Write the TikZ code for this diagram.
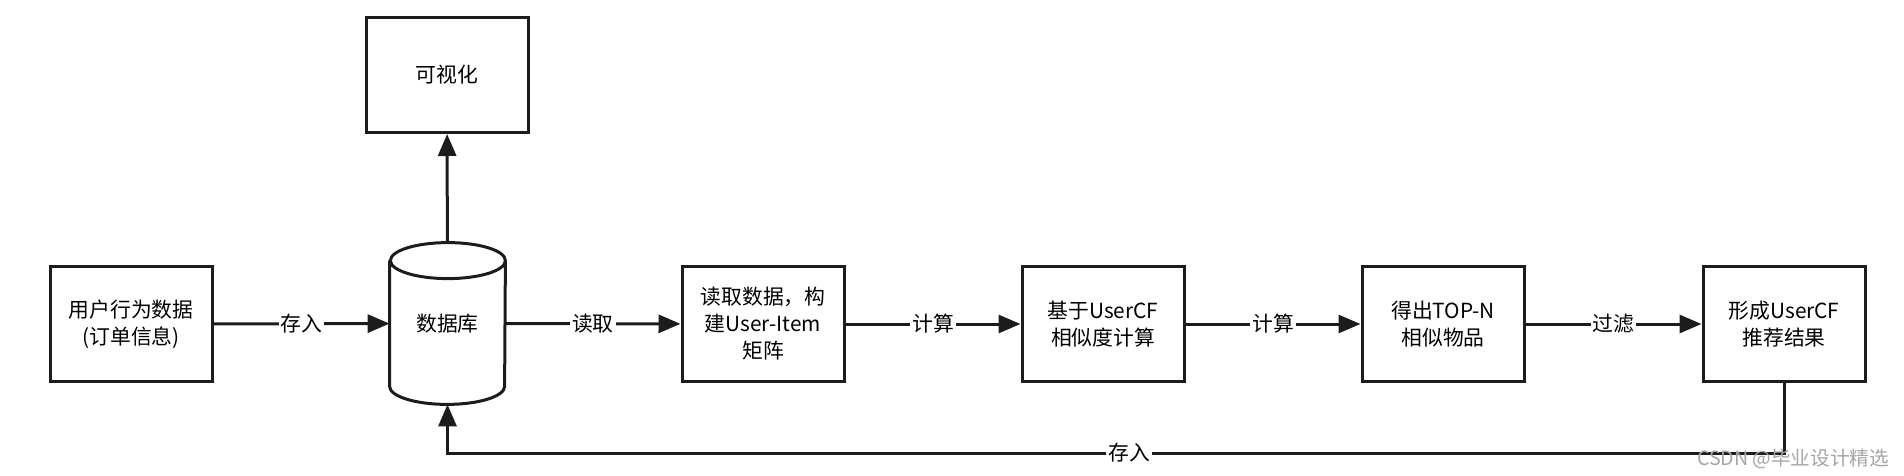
\documentclass[tikz,border=0pt]{standalone}
\usepackage{fontspec}
\usepackage{tikz}
\usetikzlibrary{arrows.meta,positioning,shapes.geometric}
\newfontfamily\cjkfont{Noto Sans CJK SC}
\definecolor{flowink}{RGB}{28,28,28}
\definecolor{markgray}{RGB}{165,165,165}
\tikzset{
  stepbox/.style={draw=flowink,line width=1.5pt,minimum width=81pt,
    minimum height=57.5pt,align=center,inner sep=2pt},
  dbbody/.style={minimum width=57.5pt,minimum height=80.5pt,inner sep=0pt},
  dbline/.style={draw=flowink,line width=1.5pt},
  flow/.style={draw=flowink,line width=1.5pt,-{Triangle[length=11pt,width=9pt]}},
  flowlabel/.style={fill=white,inner sep=1pt},
}
\newcommand{\dbcap}[1]{%
  arc[start angle=#1,delta angle=180,x radius=28.75pt,y radius=9pt]%
}

\begin{document}
\begin{tikzpicture}[x=.5pt,y=.5pt,font=\cjkfont\fontsize{10.4}{13.5}\selectfont]
    \useasboundingbox (0,0) rectangle (1904,-476);
    % main row
    \node[stepbox] (order) at (131,-324) {用户行为数据\\(订单信息)};
    \node[dbbody] (db) at (447.5,-323.5) {数据库};
    \draw[dbline] ([yshift=-9pt]db.north west) -- ([yshift=9pt]db.south west)
      \dbcap{180} -- ([yshift=-9pt]db.north east) \dbcap{0} \dbcap{180};
    \node[stepbox] (vis) at (447,-75) {可视化};
    \node[stepbox] (uimat) at (763,-324) {读取数据，构\\建User-Item\\矩阵};
    \node[stepbox] (simcalc) at (1103,-324) {基于UserCF\\相似度计算};
    \node[stepbox] (topn) at (1443,-324) {得出TOP-N\\相似物品};
    \node[stepbox] (result) at (1784,-324) {形成UserCF\\推荐结果};
    \draw[flow] (order) -- node[flowlabel]{存入} (db);
    \draw[flow] (db) -- (vis);
    \draw[flow] (db) -- node[flowlabel]{读取} (uimat);
    \draw[flow] (uimat) -- node[flowlabel]{计算} (simcalc);
    \draw[flow] (simcalc) -- node[flowlabel]{计算} (topn);
    \draw[flow] (topn) -- node[flowlabel]{过滤} (result);
    % back to the database
    \coordinate (low) at (0,-453);
    \draw[flow] (result.south) -- (result.south |- low)
      -- node[flowlabel,pos=.49]{存入} (db.south |- low) -- (db.south);
    \node[text=markgray,font=\cjkfont\fontsize{9.8}{11}\selectfont] (mark)
      at (1793,-459) {CSDN @毕业设计精选};
  \end{tikzpicture}
\end{document}
